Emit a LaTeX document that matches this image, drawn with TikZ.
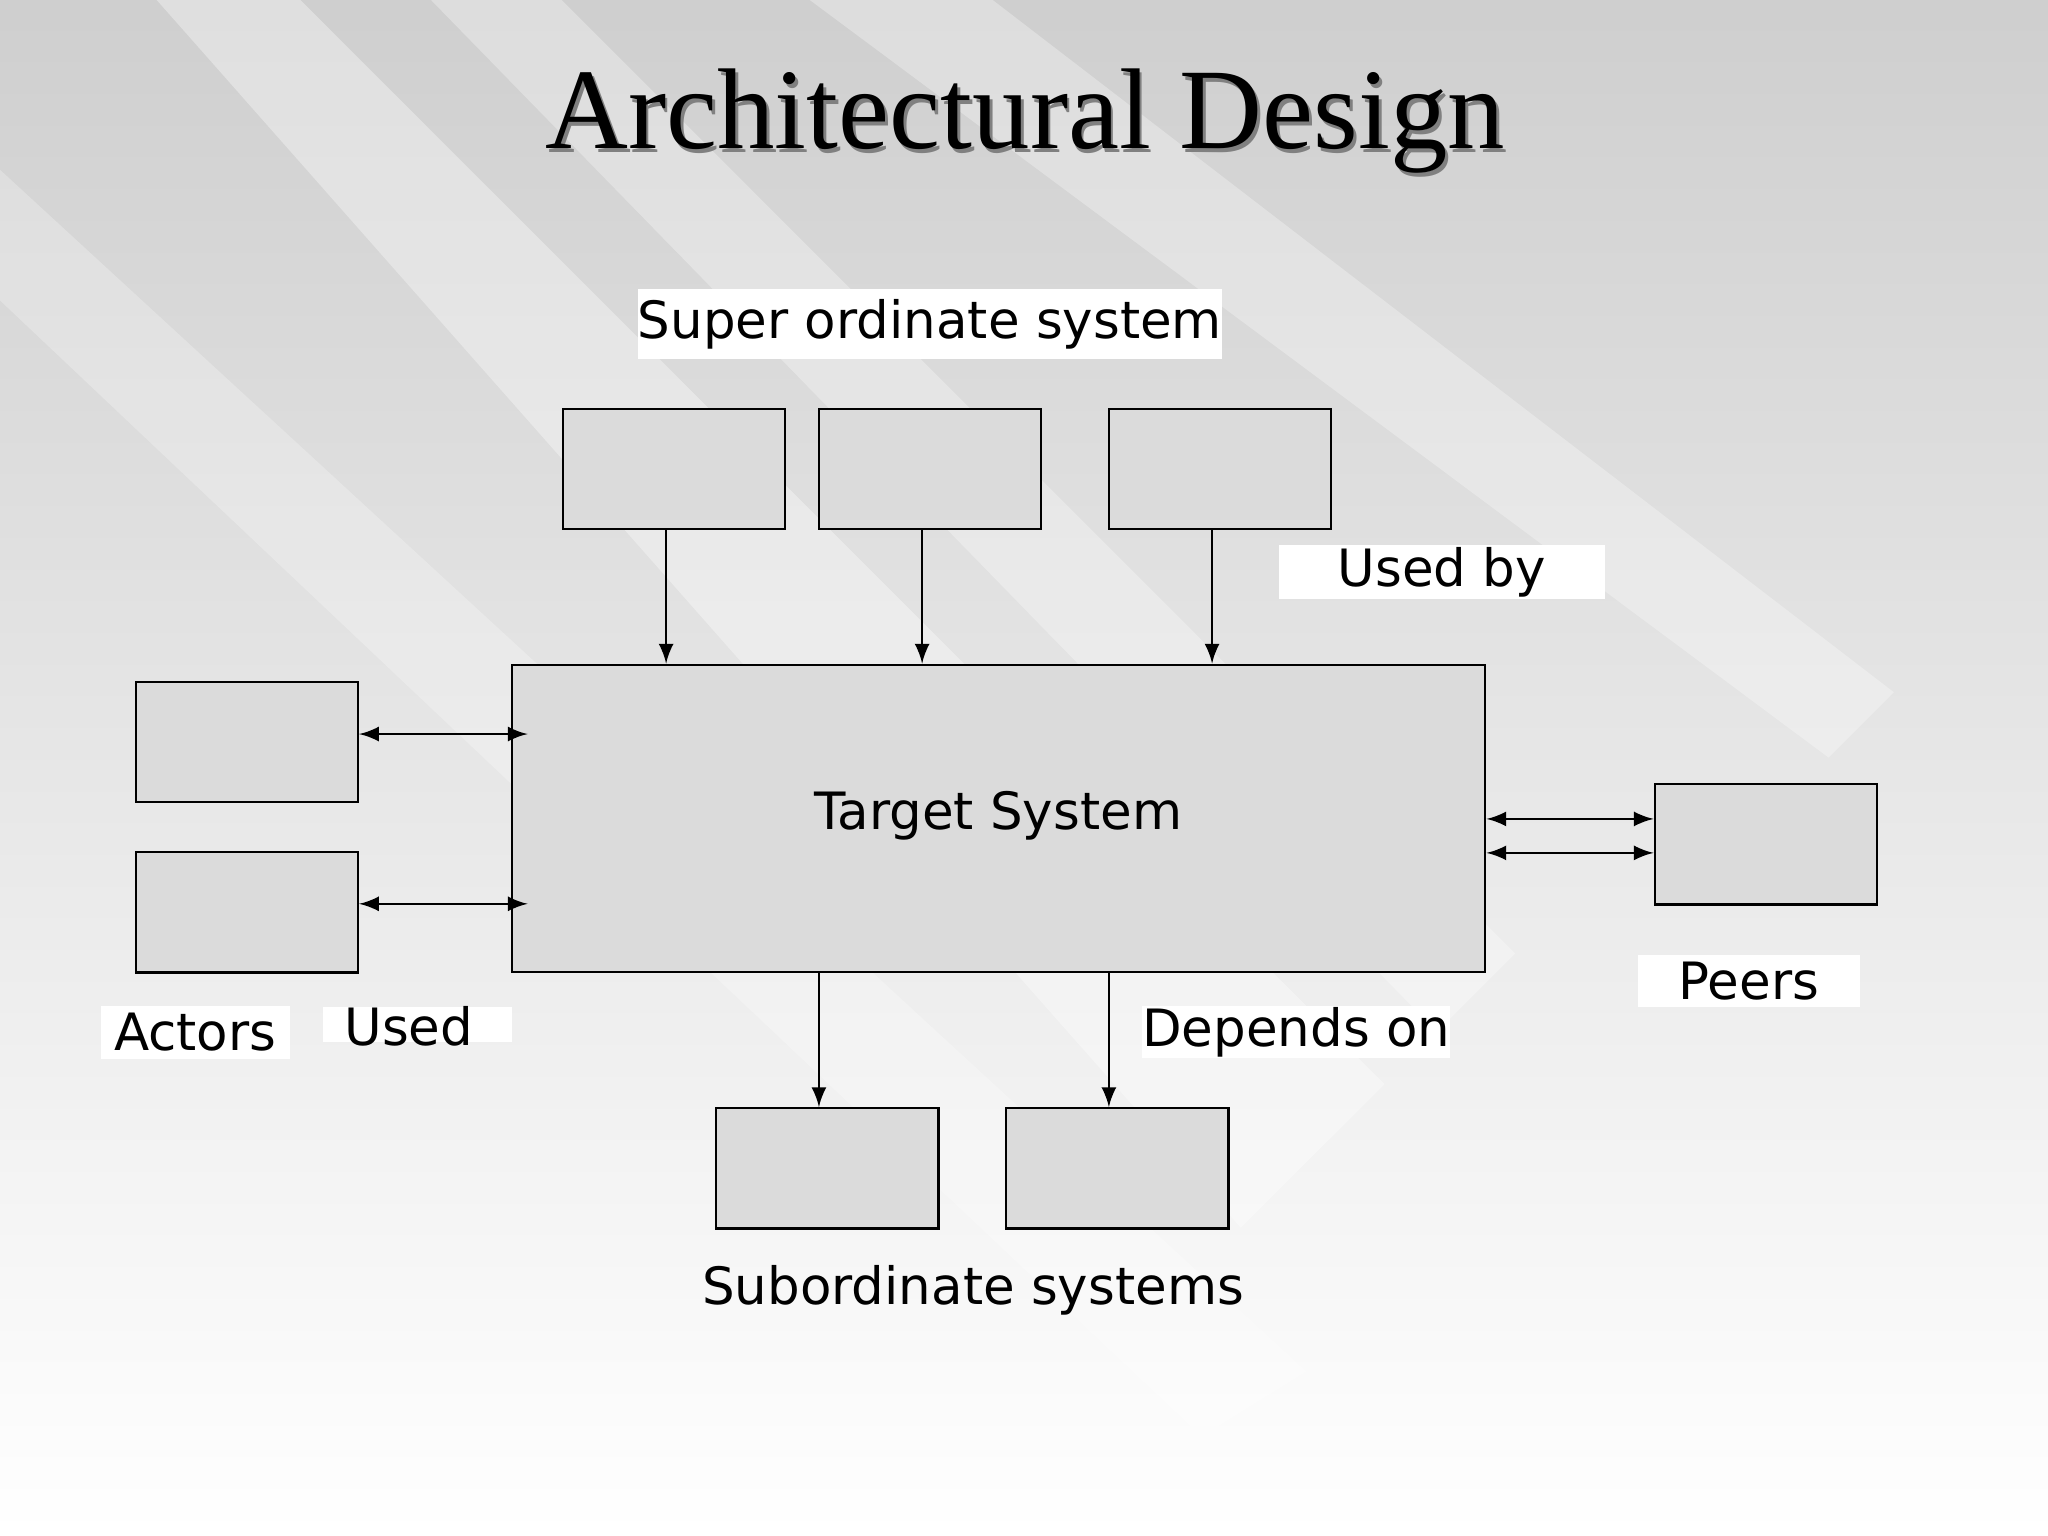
\documentclass[tikz,border=0pt]{standalone}
\usepackage{fontspec}
\setmainfont{DejaVu Sans}
\newfontfamily\titlefont{Liberation Serif}
\begin{document}
\begin{tikzpicture}[x=0.01cm,y=-0.01cm,
  bx/.style={draw=black,fill=gray!28,line width=0.5pt,minimum width=1.7cm,minimum height=0.92cm,inner sep=0},
  lab/.style={fill=white,inner sep=0,font=\fontsize{11.2}{13}\selectfont},
  arr/.style={-latex,line width=0.5pt},
  darr/.style={latex-latex,line width=0.5pt}]
\useasboundingbox (0,0) rectangle (1568,1176);
\shade[top color=gray!38,bottom color=white] (0,0) rectangle (1568,1176);
\begin{scope}
\clip (0,0) rectangle (1568,1176);
\fill[white,opacity=0.35] (120,0) -- (230,0) -- (1060,830) -- (950,940) -- cycle;
\fill[white,opacity=0.3] (330,0) -- (430,0) -- (1160,730) -- (1100,790) -- cycle;
\fill[white,opacity=0.3] (620,0) -- (760,0) -- (1450,530) -- (1400,580) -- cycle;
\fill[white,opacity=0.25] (0,130) -- (0,230) -- (920,1100) -- (1000,1050) -- cycle;
\end{scope}
\node[font=\titlefont\fontsize{25}{28}\selectfont,text=gray] at (787,96) {Architectural Design};
\node[font=\titlefont\fontsize{25}{28}\selectfont] (title) at (785,93) {Architectural Design};

\node[lab,minimum width=4.32cm,minimum height=0.54cm] (sup) at (712,248) {Super ordinate system};
\node[bx] (s1) at (516,359) {};
\node[bx] (s2) at (712,359) {};
\node[bx] (s3) at (934,359) {};
\node[draw=black,fill=gray!28,line width=0.5pt,minimum width=7.45cm,minimum height=2.35cm,inner sep=0,font=\fontsize{11.2}{13}\selectfont] (t) at (764.5,626.5) {\raisebox{1.2mm}{Target System}};
\node[lab,minimum width=2.5cm,minimum height=0.41cm] (ub) at (1104,438) {Used by};
\node[bx] (a1) at (189,568) {};
\node[bx] (a2) at (189,698.5) {};
\node[bx] (p) at (1352,646.5) {};
\node[lab,minimum width=1.7cm,minimum height=0.4cm] (peers) at (1339,751) {Peers};
\node[lab,minimum width=1.45cm,minimum height=0.41cm] (act) at (149.5,790.5) {Actors};
\node[lab,minimum width=1.45cm,minimum height=0.27cm,anchor=north] (used) at (319.5,770) {};
\node[font=\fontsize{11.2}{13}\selectfont] at (313,786) {Used};
\node[lab,minimum width=2.35cm,minimum height=0.4cm] (dep) at (992.5,790) {Depends on};
\node[bx] (b1) at (633.5,894.5) {};
\node[bx] (b2) at (855.5,894.5) {};
\node[font=\fontsize{11.2}{13}\selectfont] (sub) at (745,988) {Subordinate systems};

\draw[arr] (s1.south -| 510,0) -- (t.north -| 510,0);
\draw[arr] (s2.south -| 706,0) -- (t.north -| 706,0);
\draw[arr] (s3.south -| 928,0) -- (t.north -| 928,0);
\draw[darr] (a1.east |- 0,562) -- (404,562);
\draw[darr] (a2.east |- 0,692) -- (404,692);
\draw[darr] (t.east |- 0,627) -- (p.west |- 0,627);
\draw[darr] (t.east |- 0,653) -- (p.west |- 0,653);
\draw[arr] (t.south -| 627,0) -- (b1.north -| 627,0);
\draw[arr] (t.south -| 849,0) -- (b2.north -| 849,0);
\end{tikzpicture}
\end{document}
